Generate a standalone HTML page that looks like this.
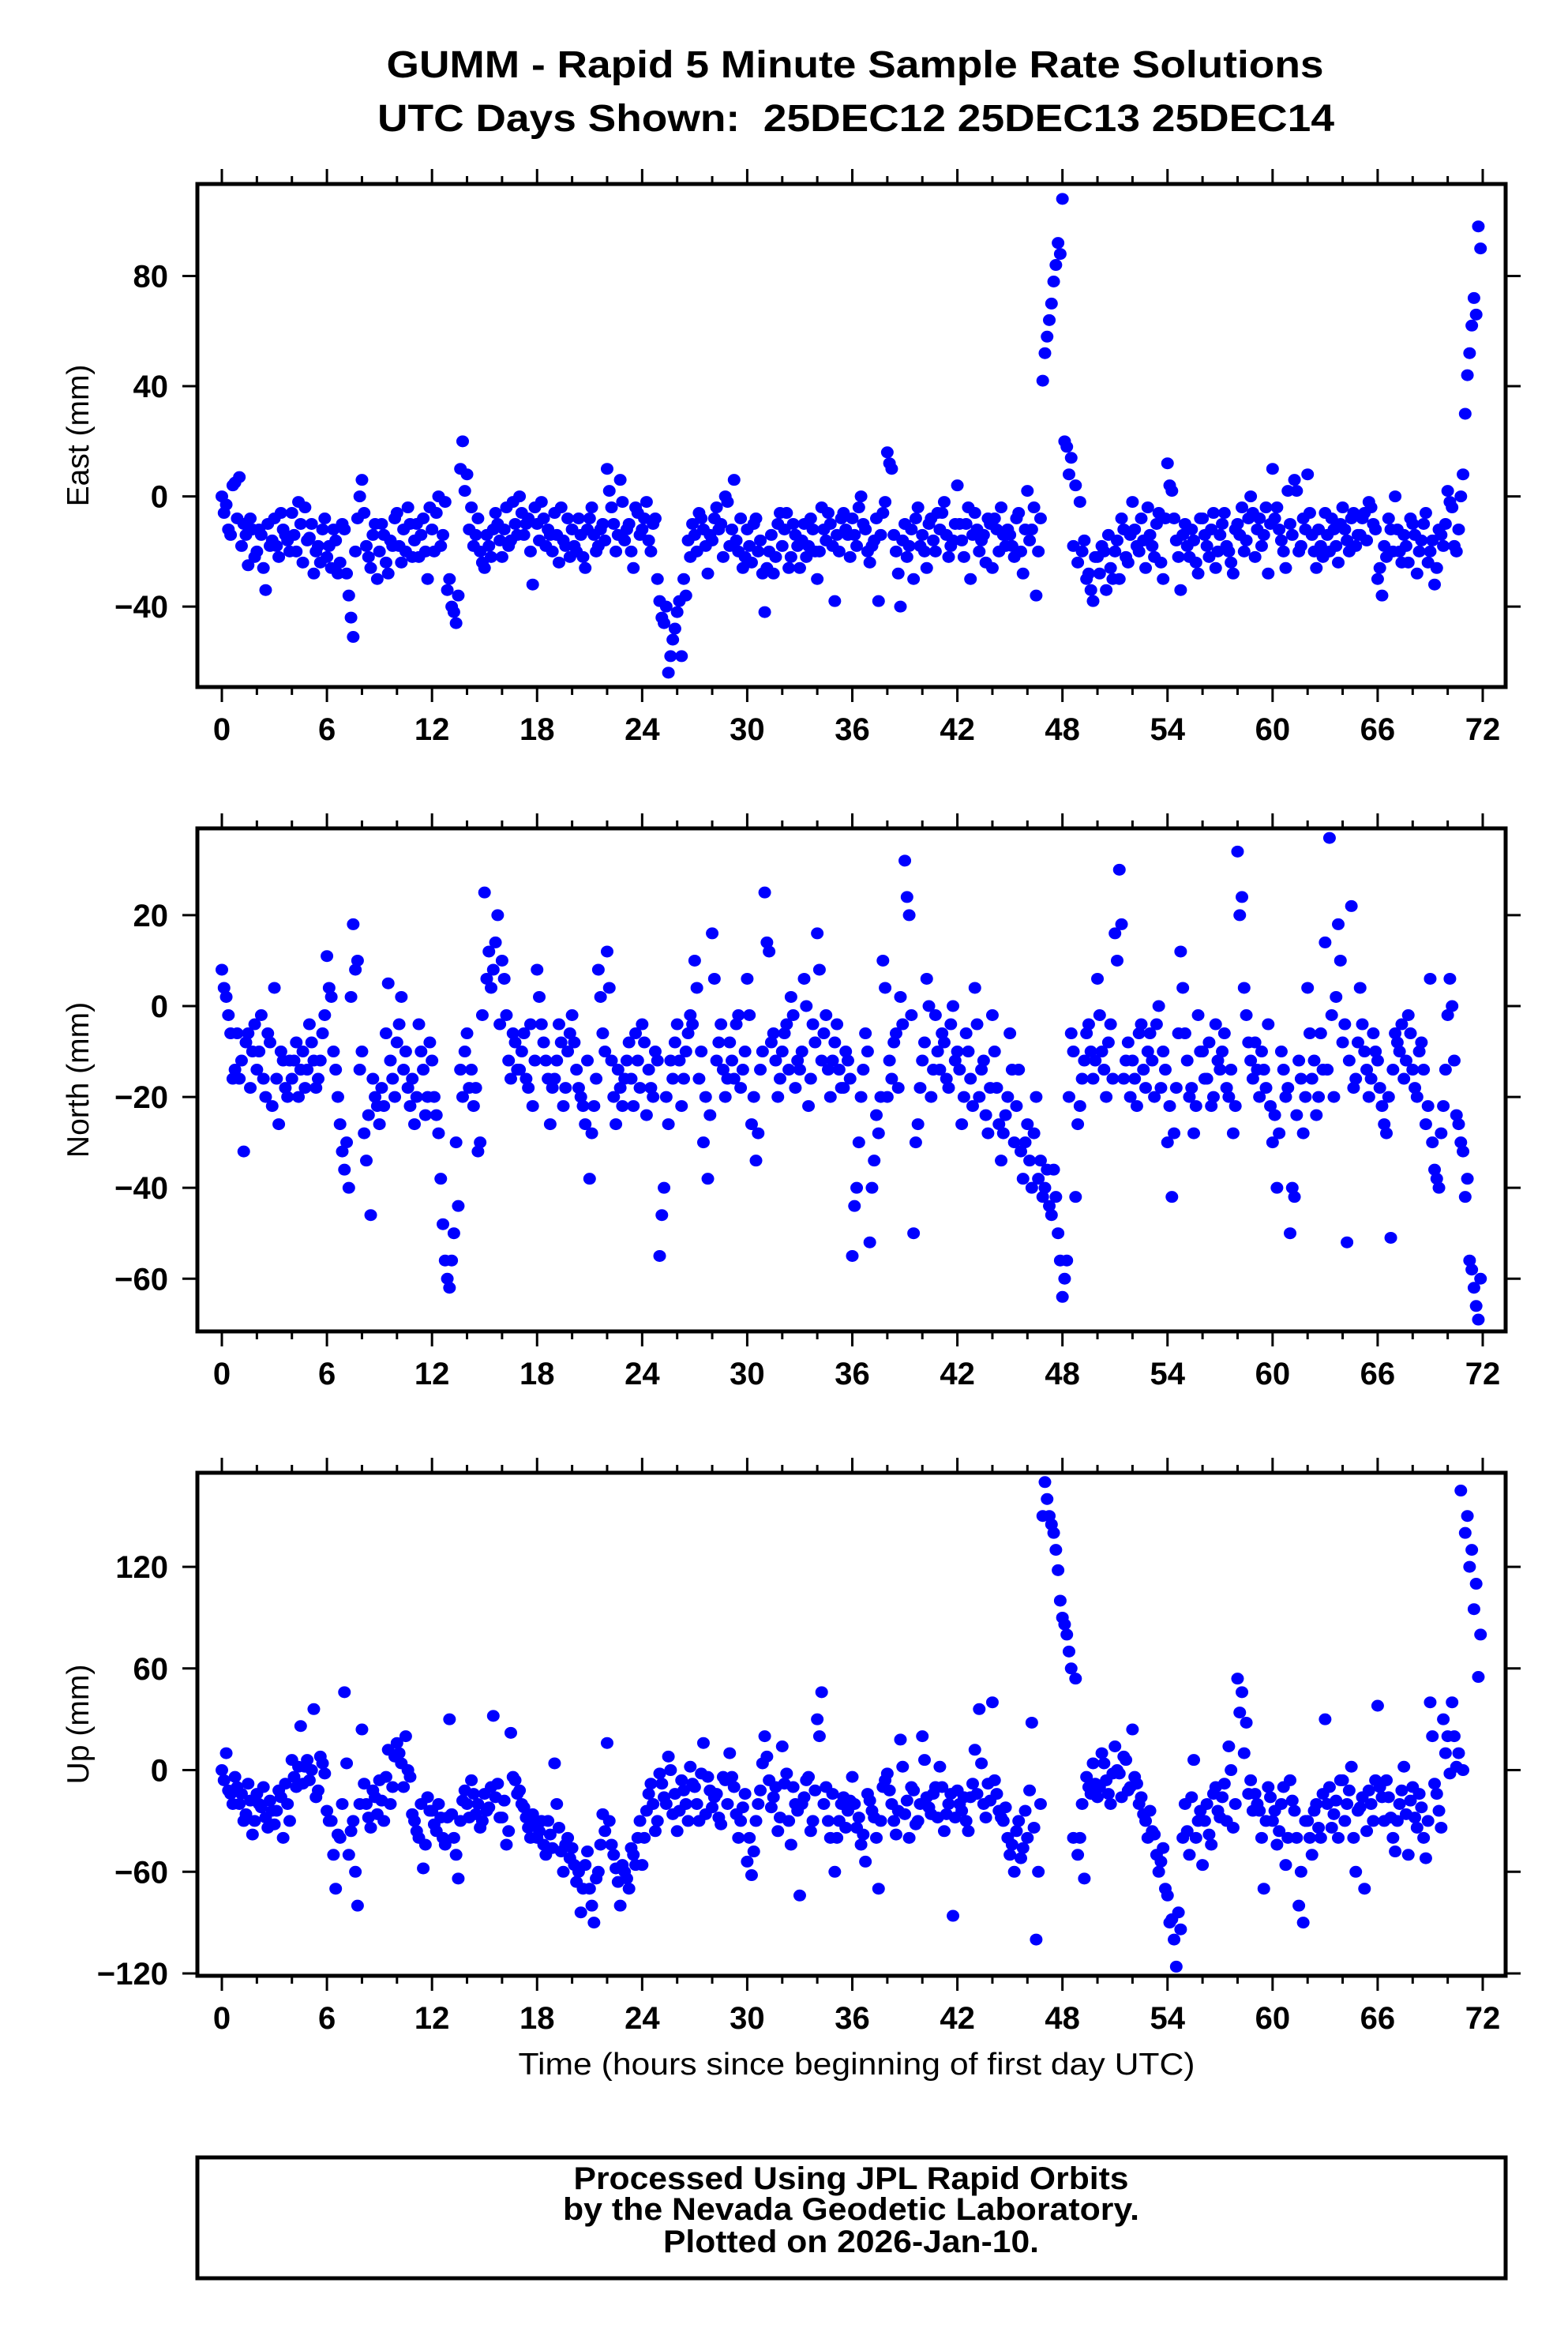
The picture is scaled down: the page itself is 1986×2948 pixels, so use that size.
<!DOCTYPE html>
<html><head><meta charset="utf-8"><title>GUMM Rapid 5 Minute Solutions</title>
<style>html,body{margin:0;padding:0;background:#fff}svg{display:block}</style></head>
<body>
<svg id="chart" width="1986" height="2948" viewBox="0 0 1986 2948" xmlns="http://www.w3.org/2000/svg" font-family="Liberation Sans, sans-serif">
<rect x="0" y="0" width="1986" height="2948" fill="#fff"/>
<text x="1083" y="98" text-anchor="middle" font-size="48" font-weight="bold" textLength="1187" lengthAdjust="spacingAndGlyphs">GUMM - Rapid 5 Minute Sample Rate Solutions</text>
<text x="1084" y="166" text-anchor="middle" font-size="48" font-weight="bold" textLength="1212" lengthAdjust="spacingAndGlyphs" xml:space="preserve">UTC Days Shown:  25DEC12 25DEC13 25DEC14</text>
<g id="panels"></g>
<text x="1085" y="2627" text-anchor="middle" font-size="39" textLength="857" lengthAdjust="spacingAndGlyphs">Time (hours since beginning of first day UTC)</text>
<rect x="250" y="2732" width="1657" height="153" fill="none" stroke="#000" stroke-width="5"/>
<text x="1078" y="2772" text-anchor="middle" font-size="40" font-weight="bold" textLength="703" lengthAdjust="spacingAndGlyphs">Processed Using JPL Rapid Orbits</text>
<text x="1078" y="2811" text-anchor="middle" font-size="40" font-weight="bold" textLength="730" lengthAdjust="spacingAndGlyphs">by the Nevada Geodetic Laboratory.</text>
<text x="1078" y="2852" text-anchor="middle" font-size="40" font-weight="bold" textLength="476" lengthAdjust="spacingAndGlyphs">Plotted on 2026-Jan-10.</text>
</svg>
<script>
const sampleStepHours = 0.25;
const halfOffsetHours = 0.125;
const xTickValues = [0,6,12,18,24,30,36,42,48,54,60,66,72];
const eastTicks = [-40,0,40,80];
const northTicks = [-60,-40,-20,0,20];
const upTicks = [-120,-60,0,60,120];
const eastValues = [
0,-3,-14,5, 7,-10,-25,-12, -20,-14,-34,-18, -8,-22,-12,-16, -6,-20,-10,-4, -15,-28,-18,-12,
-22,-26,-16,-24, -12,-36,-51,-8, 6,-18,-26,-10, -20,-14,-28,-18, -6,-24,-20,-10, -16,-22,-8,-30,
-12,-6,-18,-2, -30,-42,-36,20, 8,-4,-14,-20, -26,-18,-12,-10, -22,-4,-16,-10, 0,-14,-8,-32,
-10,-2,-18,-14, -6,-24,-16,-8, -12,-20,-14,-26, -8,-14,-18,-10, 10,-4,-20,6, -16,-10,-26,-6,
-12,-2,-20,-8, -38,-46,-64,-52, -42,-58,-36,-22, -14,-6,-12,-28, -16,-4,-10,0, -18,6,-20,-26,
-12,-24,-8,-16, -42,-20,-28,-10, -18,-6,-22,-14, -26,-10,-18,-12, -30,-4,-16,-10, -38,-20,-6,-14,
-8,-18,0,-12, -24,-16,-38,-6, 16,10,-20,-40, -10,-18,-30,-4, -14,-26,-8,-20, -12,-2,-22,-16,
4,-16,-10,-30, -6,-20,-14,-8, -26,-12,-4,-18, -14,-22,-6,-28, 2,-12,-36,-8, 52,64,78,92,
108,18,14,4, -2,-16,-28,-38, -22,-18,-34,-26, -20,-30,-12,-24, -2,-18,-8,-26, -14,-22,-6,-30,
12,2,-16,-34, -10,-22,-16,-28, -8,-18,-12,-26, -14,-6,-20,-28, -10,-4,-16,0, -22,-8,-14,-28,
10,-4,-16,-26, -10,6,-20,-8, 8,-14,-26,-18, -6,-20,-12,-24, -4,-16,-8,-18, -14,-6,-2,-10,
-30,-36,-22,-12, 0,-20,-14,-24, -10,-28,-16,-6, -20,-32,-12,-18, 2,-4,-20,0, 30,52,72,98];
const eastValuesB = [
-6,-12,4,-8, -18,-14,-8,-22, -12,-26,-10,-16, -18,-6,-14,-20, -14,-2,-24,-16, -10,-20,-24,-8,
-18,-12,-28,-10, -28,-44,-20,0, -6,-22,-14,-30, -10,-24,-16,-8, -18,-12,-4,-22, -10,-14,-20,-4,
-20,0,-14,-34, -40,-46,10,2, -12,-18,-8,-24, -14,-22,-6,-16, -12,-18,-2,-14, -6,-10,-20,-4,
-16,-8,-12,-20, -14,-4,-18,-22, -18,-8,-22,-12, -4,-20,-12,-16, 2,-10,-14,-2, -12,-20,-4,-14,
-8,-16,-10,-30, -44,-40,-58,-48, -38,-30,-16,-10, -20,-8,-18,-14, -8,-12,-22,-2, -12,-16,-8,-22,
-18,-10,-20,-28, -26,-14,-22,-6, -12,-26,-10,-18, -16,-22,-8,-20, -20,-12,-6,-18, -14,-8,-12,-22,
-14,-4,-10,-20, -18,-8,-14,-2, 12,-14,-28,-16, -22,-12,-8,-18, -20,-10,-16,-6, -6,-14,-18,-10,
-10,-22,-4,-14, -12,-16,-24,-10, -8,-20,-14,-12, -18,-8,-20,-12, -16,-4,-20,42, 58,70,84,88,
20,8,-18,-24, -20,-30,-34,-22, -28,-20,-14,-30, -16,-8,-22,-14, -12,-20,-16,-4, -18,-10,-24,-8,
4,-8,-22,-14, -18,-12,-24,-8, -14,-22,-6,-20, -10,-18,-24,-12, -14,-20,-8,-6, -12,-18,-4,-10,
-8,-12,-20,2, -14,2,-18,-12, -6,-20,-12,-22, -14,-8,-18,-10, -12,-20,-6,-14, -8,-16,-4,-12,
-26,-18,-8,-20, -12,-24,-18,-8, -14,-20,-10,-24, -16,-26,-14,-10, -2,-18,-12,8, 44,62,66,90];
const northValues = [
8,2,-6,-14, -16,-32,-6,-10, -14,-2,-20,-8, 4,-26,-12,-20, -16,-8,-14,-18, -4,-12,-16,-6,
11,2,-14,-26, -36,-40,18,10, -10,-34,-46,-20, -26,-22,5,-16, -8,2,-10,-22, -26,-4,-14,-20,
-12,-24,-38,-56, -62,-50,-44,-20, -6,-14,-18,-30, 25,12,8,20, 10,-2,-16,-8, -14,-6,-18,-22,
8,-4,-12,-26, -16,-4,-22,-10, -2,-14,-20,-26, -38,-22,8,-6, 12,-12,-26,-18, -16,-8,-22,-12,
-4,-24,-18,-10, -55,-40,-26,-16, -4,-22,-10,-2, 10,-16,-30,-38, 16,-12,-4,-20, -8,-16,-2,-14,
6,-26,-34,-14, 25,12,-6,-20, -10,-4,2,-18, -14,6,-22,-4, 16,-12,-2,-20, -8,-14,-18,-12,
-55,-40,-20,-6, -52,-34,-28,10, -20,-16,-6,2, 32,20,-50,-26, -12,6,-20,-2, -14,-8,-18,0,
-10,-26,-6,-16, 4,-20,-12,-28, -2,-18,-34,-24, -6,-30,-14,-38, -26,-40,-20,-34, -40,-44,-36,-50,
-64,-56,-6,-42, -22,-12,-4,-16, 6,-10,-20,-4, 16,30,-16,-8, -12,-22,-4,-18, -6,-20,0,-10,
-30,-42,-18,12, -6,-20,-28,-2, -10,-16,-22,-4, -14,-6,-20,-28, 34,24,-2,-12, -8,-20,-14,-4,
-30,-40,-10,-20, -50,-42,-12,-28, 4,-16,-24,-6, 14,37,-20,18, -8,-52,22,-16, 4,-10,-20,-6,
-12,-22,-28,-51, -6,-10,-16,-2, -14,-20,-8,-26, 6,-36,-40,-22, -2,0,-24,-30, -42,-56,-62,-69];
const northValuesB = [
4,-2,-16,-6, -12,-8,-18,-4, -10,-16,-6,-22, -16,-10,-18,-12, -12,-20,-10,-14, -8,-18,-12,-2,
4,-10,-20,-32, -30,2,8,-14, -28,-24,-16,-22, -18,-6,-12,-20, -4,-14,-18,-16, -20,-10,-24,-8,
-20,-28,-48,-60, -56,-30,-14,-10, -18,-22,-32,-2, 6,4,14,-4, 6,-12,-6,-14, -10,-16,-4,-12,
2,-8,-16,-18, -12,-8,-18,-6, -8,-18,-22,-12, -28,-16,2,-10, 4,-20,-14,-22, -12,-16,-6,-18,
-8,-14,-20,-12, -46,-20,-12,-8, -12,-16,-6,-4, 4,-10,-20,-24, 6,-8,-14,-16, -12,-4,-18,-10,
-2,-20,-28,-10, 14,-8,-12,-16, -6,-14,-2,-12, -10,0,-16,-8, 8,-6,-14,-12, -4,-18,-10,-16,
-44,-30,-14,-10, -40,-24,-20,4, -12,-8,-18,-4, 24,-2,-30,-18, -8,0,-14,-10, -6,-16,-4,-12,
-14,-20,-10,-22, -4,-14,-24,-18, -10,-26,-28,-20, -14,-22,-32,-30, -34,-28,-38,-42, -36,-46,-42,-56,
-60,-20,-10,-26, -16,-6,-10,-12, -2,-14,-8,-16, 10,18,-12,-20, -16,-6,-14,-10, -12,-4,-18,-14,
-22,-28,-6,4, -12,-18,-22,-10, -16,-8,-20,-12, -10,-18,-14,-22, 20,4,-8,-16, -14,-10,-18,-22,
-24,-28,-14,-18, -40,-24,-16,-20, -6,-12,-20,-14, -14,-2,2,10, -4,-12,-18,-8, -4,-14,-16,-10,
-18,-26,-20,-14, -8,-4,-12,-6, -18,-10,-14,-22, -30,-38,-28,-14, 6,-12,-26,-32, -38,-58,-66,-60];
const upValues = [
0,10,-14,-4, -20,-30,-8,-38, -14,-22,-28,-18, -32,-12,-40,-20, 6,-10,26,2, -6,36,-12,4,
-24,-30,-70,-40, 46,-50,-30,-80, 24,-20,-34,-16, -6,-30,12,-10, 16,4,20,-4, -30,-40,-58,-16,
-24,-36,-28,-44, 30,-40,-64,-18, -20,-6,-26,-34, -14,-22,32,-8, -28,-44,22,-6, -12,-22,-34,-26,
-40,-30,-50,-38, 4,-34,-60,-40, -46,-66,-84,-56, -70,-90,-60,-26, 16,-44,-58,-80, -60,-70,-50,-40,
-56,-24,-8,-36, -2,-16,8,-26, -36,-6,-20,2, -10,-30,16,-4, -22,-14,-32,-6, 10,-10,-40,-22,
-54,-62,-30,-12, 20,-6,-16,-36, 14,-2,-44,-20, -74,-16,-4,-30, 30,46,-10,-40, -60,-30,-16,-24,
-4,-34,-44,-54, -18,-28,-70,-10, -2,-20,-38,18, -26,-40,-12,-30, 20,-16,-26,-10, 2,-36,-20,-86,
-12,-24,-30,-16, 12,36,-20,-8, 40,-14,-28,-22, -50,-60,-30,-46, -40,28,-100,-20, 170,150,140,118,
90,80,60,54, -40,-64,-10,4, -16,10,-6,-20, 14,-2,8,-12, 24,-8,-16,-30, -24,-38,-60,-46,
-74,-88,-116,-94, -20,-50,6,-30, -56,-20,-44,-10, -28,-8,14,-34, 54,46,28,-6, -14,-24,-70,-10,
-30,-44,-20,-56, -6,-24,-80,-90, -30,-50,-20,-40, 30,-10,-26,-40, -6,-20,2,-60, -22,-70,-12,-30,
38,-16,-6,-28, -48,-20,2,-50, -10,-34,-22,-52, 40,-8,-24,30, 20,40,2,165, 140,120,95,55];
const upValuesB = [
-6,-12,-20,-10, -14,-26,-18,-30, -20,-10,-34,-24, -24,-16,-8,-30, -4,2,-8,6, 0,-16,8,-2,
-30,-50,-38,-20, 4,-36,-60,-20, -8,-28,-12,-26, -18,-4,-20,8, 10,-10,0,-26, -36,-20,-44,-24,
-32,-20,-40,-28, -26,-50,-30,-12, -28,-14,-20,-30, -24,-10,-16,-28, -18,-36,-4,-14, -20,-28,-40,-32,
-36,-44,-30,-46, -20,-48,-44,-52, -56,-60,-70,-48, -80,-64,-44,-36, -30,-50,-66,-56, -64,-46,-56,-30,
-40,-14,-20,-30, -8,-20,0,-14, -24,-12,-30,-8, -20,-2,-26,-12, -16,-28,-4,-20, -4,-26,-30,-14,
-40,-48,-20,4, 8,-22,-10,-28, -8,-30,-10,-24, -20,-6,-36,-12, 20,-20,-30,-14, -40,-20,-34,-18,
-20,-28,-38,-14, -24,-40,-30,-6, -12,-30,-24,2, -18,-10,-32,-20, 6,-22,-14,-28, -10,-26,-14,-28,
-20,-16,-36,-8, -14,4,-28,-18, -6,-24,-30,-40, -44,-36,-52,-24, -12,-34,-60,150, 160,145,130,100,
86,70,-40,-50, -20,-4,-14,-8, -10,4,-14,-2, 0,-16,6,-10, -4,-20,-26,-40, -36,-50,-54,-70,
-90,-100,-84,-40, -36,-16,-40,-24, -30,-38,-14,-24, -16,-30,0,-20, 34,10,-14,-24, -20,-40,-30,-16,
-24,-36,-10,-40, -18,-40,-60,-30, -40,-24,-34,-14, -20,-34,-18,-6, -30,-12,-40,-24, -16,-36,-20,-6,
-10,-30,-16,-40, -30,-12,-26,-18, -28,-14,-40,-30, 20,-14,-34,10, -2,20,10,0, 150,130,110,80];

const NS='http://www.w3.org/2000/svg';
const root=document.getElementById('panels');
function mk(tag,attrs,parent){const e=document.createElementNS(NS,tag);for(const k in attrs)e.setAttribute(k,attrs[k]);(parent||root).appendChild(e);return e;}
const X0=250,X1=1907;
function xScale(t){return 281+(t/72)*(1878-281);}
const panels=[
 {key:'east',title:'East (mm)',vals:eastValues,valsB:eastValuesB,ticks:eastTicks,top:233,bot:870,dmin:-69.2,dmax:113.4},
 {key:'north',title:'North (mm)',vals:northValues,valsB:northValuesB,ticks:northTicks,top:1049,bot:1686,dmin:-71.6,dmax:39.1},
 {key:'up',title:'Up (mm)',vals:upValues,valsB:upValuesB,ticks:upTicks,top:1865,bot:2502,dmin:-121.4,dmax:175.5}
];
panels.forEach(p=>{
 const g=mk('g',{});
 
 
 const yScale=v=>p.bot-(v-p.dmin)/(p.dmax-p.dmin)*(p.bot-p.top);
 const pts=mk('g',{fill:'#0000ff'},g);
 
 
 p.vals.forEach((v,i)=>{
  const c=mk('ellipse',{cx:xScale(i*sampleStepHours),cy:yScale(v),rx:8,ry:7.5},pts);
  
  
 });
 p.valsB.forEach((v,i)=>{
  const c=mk('ellipse',{cx:xScale(i*sampleStepHours+halfOffsetHours),cy:yScale(v),rx:8,ry:7.5},pts);
  
  
 });
 const fr=mk('rect',{x:X0,y:p.top,width:X1-X0,height:p.bot-p.top,fill:'none',stroke:'#000','stroke-width':5},g);
 
 
 for(let h=0;h<=72;h+=2){
  const major=h%6===0, len=major?19:10, x=xScale(h);
  const t1=mk('line',{x1:x,x2:x,y1:p.bot,y2:p.bot+len,stroke:'#000','stroke-width':3},g);
  
  
  const t2=mk('line',{x1:x,x2:x,y1:p.top,y2:p.top-len,stroke:'#000','stroke-width':3},g);
  
  
 }
 xTickValues.forEach(h=>{
  const tx=mk('text',{x:xScale(h),y:p.bot+67,'text-anchor':'middle','font-size':40,'font-weight':'bold'},g);
  
  
  tx.textContent=String(h);
 });
 p.ticks.forEach(v=>{
  const y=yScale(v);
  const l=mk('line',{x1:X0-19,x2:X0,y1:y,y2:y,stroke:'#000','stroke-width':3},g);
  
  
  const r=mk('line',{x1:X1,x2:X1+19,y1:y,y2:y,stroke:'#000','stroke-width':3},g);
  
  
  const tl=mk('text',{x:213,y:y+14,'text-anchor':'end','font-size':40,'font-weight':'bold'},g);
  
  
  tl.textContent=v<0?'\u2212'+Math.abs(v):String(v);
 });
 const cy=(p.top+p.bot)/2;
 const yt=mk('text',{x:0,y:0,'text-anchor':'middle','font-size':39,transform:'translate(112,'+cy+') rotate(-90)'},g);
 
 
 yt.textContent=p.title;
});
</script>
</body></html>
